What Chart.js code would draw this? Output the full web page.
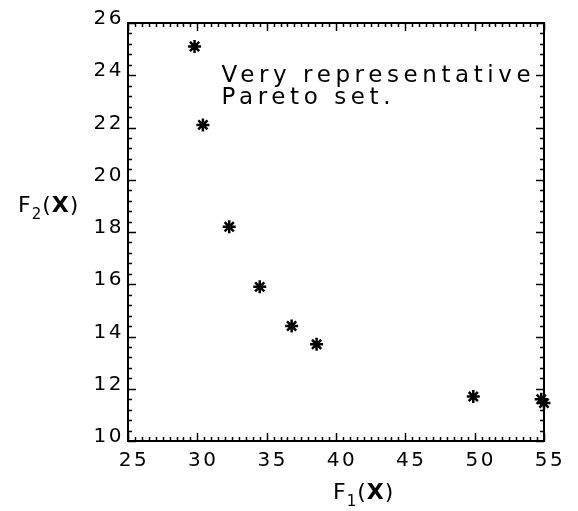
<!DOCTYPE html>
<html>
<head>
<meta charset="utf-8">
<script src="https://cdn.jsdelivr.net/npm/chart.js@4/dist/chart.umd.min.js"></script>
<style>
  html, body { margin: 0; padding: 0; background: #fff; }
  #wrap { width: 578px; height: 511px; }
</style>
</head>
<body>
<div id="wrap"><canvas id="paretoChart" width="578" height="511"></canvas></div>
<script>
// Pareto points
const f1Values = [29.8, 30.4, 32.3, 34.5, 36.8, 38.6, 49.9, 54.8, 55.0];
const f2Values = [25.1, 22.1, 18.2, 15.9, 14.4, 13.7, 11.7, 11.6, 11.45];

// axes
const xRange = [25, 55];
const yRange = [10, 26];
const xStep = 5, xMinorStep = 0.5;
const yStep = 2, yMinorStep = 0.4;

const noteLines = ['Very representative', 'Pareto set.'];
const noteAt = { x: 31.75, y: 23.75 };

const FONT = '"DejaVu Sans", sans-serif';

// inward ticks on all four sides, frame, note and axis titles
const framePlugin = {
    id: 'frame',
    beforeDraw(chart) {
        chart.ctx.letterSpacing = '2.5px';
    },
    afterDraw(chart) {
        const ctx = chart.ctx;
        const { left, right, top, bottom } = chart.chartArea;
        const xs = chart.scales.x, ys = chart.scales.y;
        ctx.save();
        ctx.strokeStyle = '#000';
        ctx.lineWidth = 2;
        ctx.strokeRect(left, top, right - left, bottom - top);

        ctx.lineWidth = 1.5;
        ctx.beginPath();
        const nx = Math.round((xRange[1] - xRange[0]) / xMinorStep);
        for (let i = 0; i <= nx; i++) {
            const v = xRange[0] + i * xMinorStep;
            const p = Math.round(xs.getPixelForValue(v)) + 0.5;
            const len = (i % (xStep / xMinorStep) === 0) ? 8 : 4;
            ctx.moveTo(p, bottom); ctx.lineTo(p, bottom - len);
            ctx.moveTo(p, top); ctx.lineTo(p, top + len);
        }
        const ny = Math.round((yRange[1] - yRange[0]) / yMinorStep);
        for (let i = 0; i <= ny; i++) {
            const v = yRange[0] + i * yMinorStep;
            const p = Math.round(ys.getPixelForValue(v)) + 0.5;
            const len = (i % Math.round(yStep / yMinorStep) === 0) ? 8 : 4;
            ctx.moveTo(left, p); ctx.lineTo(left + len, p);
            ctx.moveTo(right, p); ctx.lineTo(right - len, p);
        }
        ctx.stroke();

        // note
        ctx.fillStyle = '#000';
        ctx.letterSpacing = '4.6px';
        ctx.font = '23px ' + FONT;
        ctx.textAlign = 'left';
        ctx.textBaseline = 'alphabetic';
        const nx0 = xs.getPixelForValue(noteAt.x);
        const ny0 = ys.getPixelForValue(noteAt.y);
        noteLines.forEach((t, i) => ctx.fillText(t, nx0, ny0 + i * 22));

        // axis titles F1(X), F2(X)
        ctx.letterSpacing = '1px';
        function title(x, y, sub) {
            ctx.font = '22px ' + FONT;
            ctx.fillText('F', x, y);
            x += ctx.measureText('F').width;
            ctx.font = '15px ' + FONT;
            ctx.fillText(sub, x, y + 7);
            x += ctx.measureText(sub).width;
            ctx.font = '22px ' + FONT;
            ctx.fillText('(', x, y);
            x += ctx.measureText('(').width;
            ctx.font = 'bold 22px ' + FONT;
            ctx.fillText('X', x, y);
            x += ctx.measureText('X').width;
            ctx.font = '22px ' + FONT;
            ctx.fillText(')', x, y);
        }
        title(333, 499, '1');
        title(18, 212, '2');
        ctx.restore();
    }
};

new Chart(document.getElementById('paretoChart'), {
    type: 'scatter',
    data: {
        datasets: [{
            label: 'Pareto set',
            data: f1Values.map((x, i) => ({ x: x, y: f2Values[i] })),
            pointStyle: 'star',
            pointRadius: 6.5,
            pointBorderWidth: 2.5,
            borderColor: '#000',
            backgroundColor: '#000',
            clip: false
        }]
    },
    options: {
        responsive: false,
        animation: false,
        layout: { padding: { top: 23, right: 34, left: 0, bottom: 0 } },
        plugins: {
            legend: { display: false },
            tooltip: { enabled: false }
        },
        scales: {
            x: {
                type: 'linear',
                min: xRange[0], max: xRange[1],
                grid: { display: false, drawTicks: false },
                border: { display: false },
                ticks: {
                    stepSize: xStep,
                    color: '#000',
                    font: { family: FONT, size: 20 },
                    padding: 8,
                    labelOffset: 6,
                    maxRotation: 0
                },
                afterFit(scale) { scale.height = 70; }
            },
            y: {
                type: 'linear',
                min: yRange[0], max: yRange[1],
                grid: { display: false, drawTicks: false },
                border: { display: false },
                ticks: {
                    stepSize: yStep,
                    color: '#000',
                    font: { family: FONT, size: 20 },
                    padding: 4,
                    labelOffset: -4
                },
                afterFit(scale) { scale.width = 128; }
            }
        }
    },
    plugins: [framePlugin]
});
</script>
</body>
</html>
